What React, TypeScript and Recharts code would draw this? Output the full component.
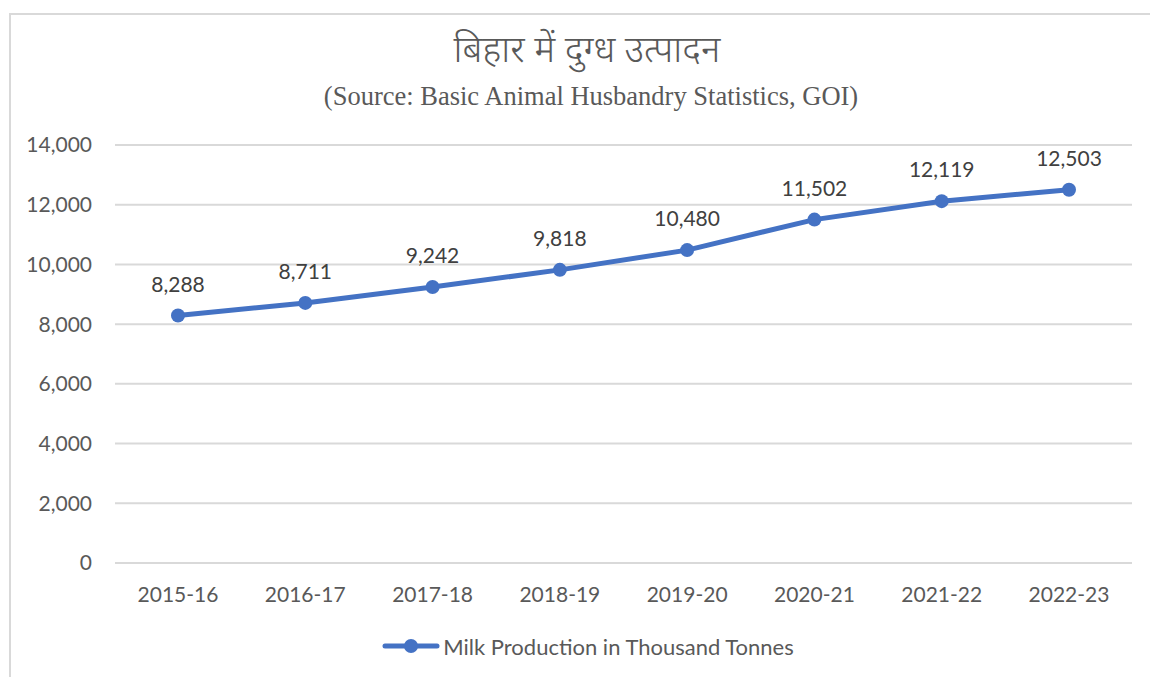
import React from 'react';
import { LineChart, Line, XAxis, YAxis, CartesianGrid, LabelList } from 'recharts';

const years = ['2015-16', '2016-17', '2017-18', '2018-19', '2019-20', '2020-21', '2021-22', '2022-23'];
const milk = [8288, 8711, 9242, 9818, 10480, 11502, 12119, 12503];
const yTicks = [0, 2000, 4000, 6000, 8000, 10000, 12000, 14000];
const seriesName = 'Milk Production in Thousand Tonnes';
const title = 'बिहार में दुग्ध उत्पादन';
const subtitle = '(Source: Basic Animal Husbandry Statistics, GOI)';

const data = years.map((y, i) => ({ year: y, milk: milk[i] }));

const BLUE = '#4472C4';
const TEXT = '#595959';
const FONT = 'Lato, "Open Sans", sans-serif';
const fmt = (v: number) => v.toLocaleString('en-US');

export default function App() {
  return (
    <div style={{ position: 'absolute', left: 0, top: 0, width: 1150, height: 677, background: '#fff', overflow: 'hidden' }}>
      <div style={{ position: 'absolute', left: 9, top: 13, width: 1200, height: 700, border: '2px solid #d9d9d9', boxSizing: 'border-box' }} />
      <div style={{ position: 'absolute', left: 0, width: 1174, top: 30, textAlign: 'center', fontSize: 37, color: TEXT, fontFamily: '"Noto Sans Devanagari", "Noto Sans", sans-serif', fontWeight: 300, lineHeight: '46px' }}>{title}</div>
      <div style={{ position: 'absolute', left: 0, width: 1182, top: 80, textAlign: 'center', fontSize: 26.5, color: TEXT, fontFamily: '"Liberation Serif", "Times New Roman", serif', lineHeight: '32px' }}>{subtitle}</div>
      <div style={{ position: 'absolute', left: 0, top: 0 }}>
        <LineChart width={1150} height={677} data={data} margin={{ top: 145, right: 18, bottom: 0, left: 55 }}>
          <CartesianGrid vertical={false} stroke="#d9d9d9" strokeWidth={2} />
          <XAxis dataKey="year" padding={{ left: 63, right: 63 }} axisLine={{ stroke: '#d9d9d9', strokeWidth: 2 }} tickLine={false} tickMargin={18} tick={{ fill: TEXT, fontSize: 21, fontFamily: FONT }} height={114} interval={0} />
          <YAxis domain={[0, 14000]} ticks={yTicks} tickFormatter={fmt} axisLine={false} tickLine={false} tickMargin={17} width={60} tick={{ fill: TEXT, fontSize: 21, fontFamily: FONT }} />
          <Line type="linear" dataKey="milk" name={seriesName} stroke={BLUE} strokeWidth={5} dot={{ r: 7, fill: BLUE, stroke: BLUE, strokeWidth: 0 }} isAnimationActive={false}>
            <LabelList dataKey="milk" position="top" offset={24} formatter={(v: any) => fmt(Number(v))} style={{ fill: '#404040', fontSize: 21, fontFamily: FONT }} />
          </Line>
        </LineChart>
      </div>
      <div style={{ position: 'absolute', left: 0, width: 1176, top: 632, display: 'flex', alignItems: 'center', justifyContent: 'center', fontFamily: FONT, fontSize: 22, color: TEXT }}>
        <svg width={58} height={28} style={{ marginRight: 3 }}>
          <line x1={3} y1={14} x2={55} y2={14} stroke={BLUE} strokeWidth={5} strokeLinecap="round" />
          <circle cx={29} cy={14} r={7} fill={BLUE} />
        </svg>
        <span>{seriesName}</span>
      </div>
    </div>
  );
}
